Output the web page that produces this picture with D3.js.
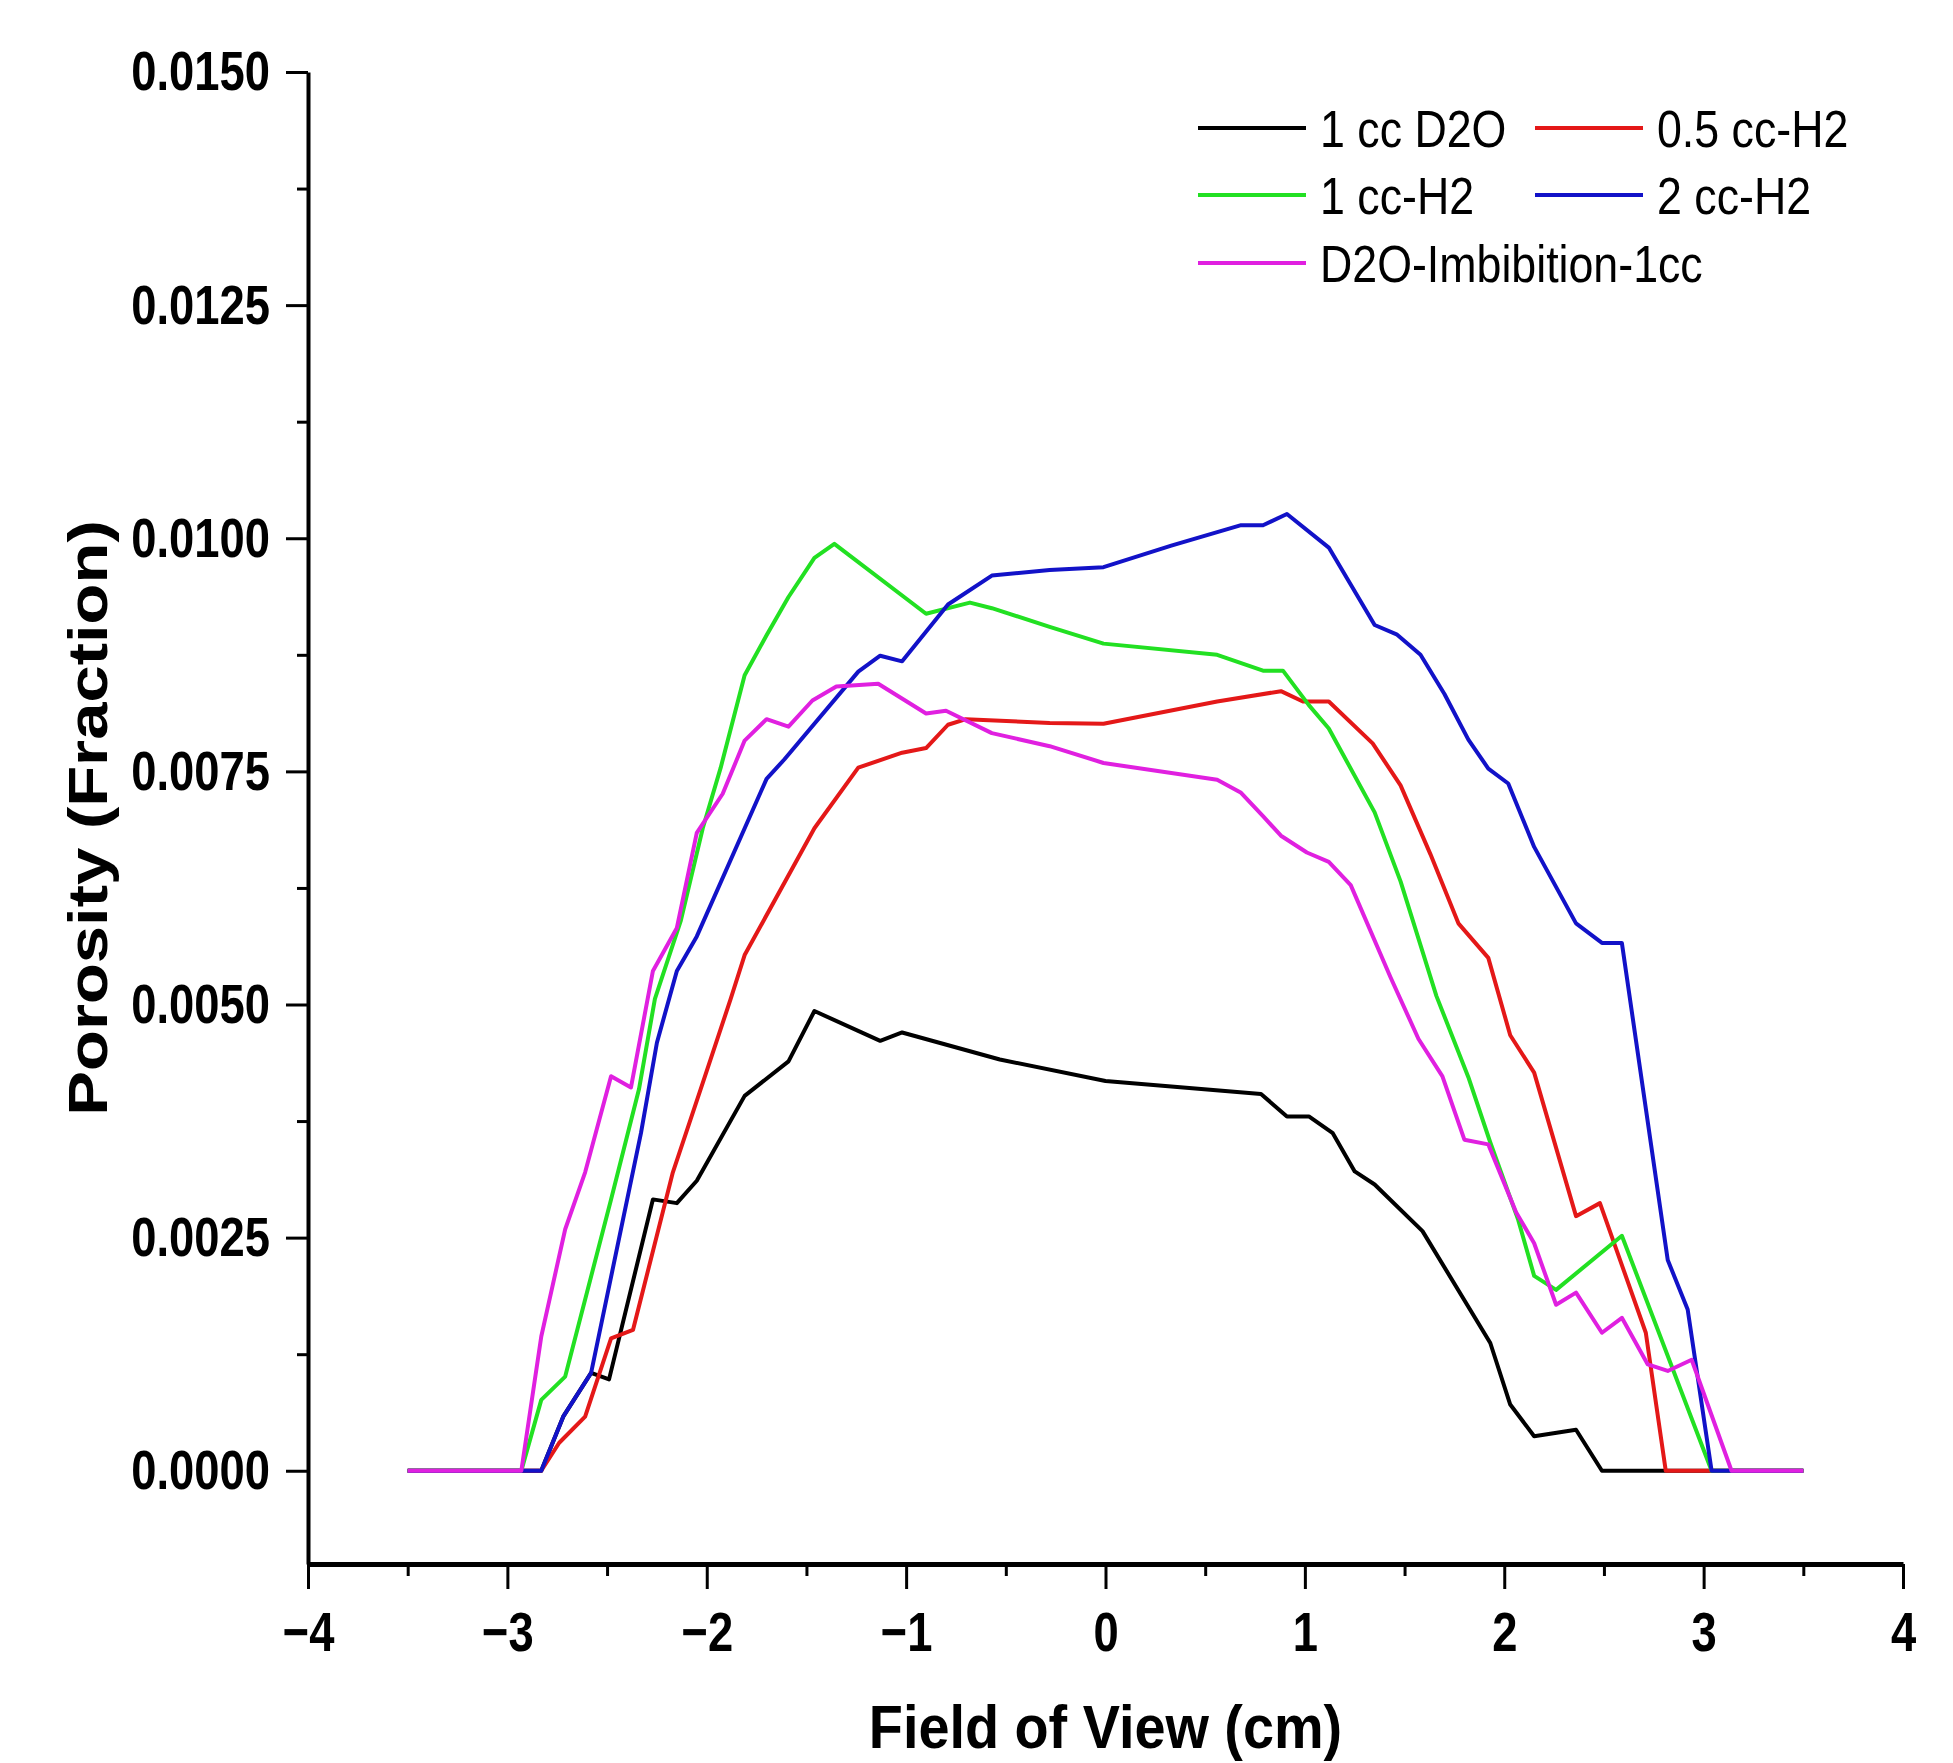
<!DOCTYPE html>
<html>
<head>
<meta charset="utf-8">
<script src="https://cdn.jsdelivr.net/npm/d3@7"></script>
<style>
  body { margin: 0; background: #fff; }
  text { font-family: 'Liberation Sans', Arial, sans-serif; fill: #000; }
</style>
</head>
<body>
<div id="chart"></div>
<script>
// series, in legend order
const seriesNames = ['1 cc D2O', '0.5 cc-H2', '1 cc-H2', '2 cc-H2', 'D2O-Imbibition-1cc']
const seriesColors = ['#000000', '#e41818', '#22e022', '#1212c8', '#e020e0']

const d2oX = [-3.5, -2.83, -2.72, -2.58, -2.49, -2.27, -2.15, -2.05, -1.81, -1.59, -1.46, -1.13, -1.02, -0.53, 0.0, 0.78, 0.91, 1.02, 1.14, 1.25, 1.35, 1.59, 1.93, 2.03, 2.15, 2.36, 2.49, 3.5]
const d2oY = [0, 0, 0.00058, 0.00105, 0.00098, 0.00291, 0.00287, 0.00311, 0.00402, 0.00439, 0.00493, 0.00461, 0.00470, 0.00441, 0.00418, 0.00404, 0.00380, 0.00380, 0.00362, 0.00321, 0.00307, 0.00257, 0.00137, 0.00071, 0.00037, 0.00044, 0, 0]

const h2HalfX = [-3.5, -2.83, -2.74, -2.61, -2.48, -2.37, -2.17, -2.02, -1.88, -1.81, -1.46, -1.24, -1.02, -0.90, -0.79, -0.70, -0.28, -0.01, 0.56, 0.88, 0.99, 1.12, 1.34, 1.48, 1.63, 1.77, 1.92, 2.03, 2.15, 2.36, 2.48, 2.71, 2.81, 3.5]
const h2HalfY = [0, 0, 0.00030, 0.00058, 0.00142, 0.00151, 0.00320, 0.00416, 0.00506, 0.00553, 0.00689, 0.00754, 0.00770, 0.00775, 0.00800, 0.00806, 0.00802, 0.00801, 0.00825, 0.00836, 0.00825, 0.00825, 0.00780, 0.00735, 0.00661, 0.00587, 0.00550, 0.00467, 0.00427, 0.00273, 0.00287, 0.00148, 0, 0]

const h2OneX = [-3.5, -2.93, -2.83, -2.71, -2.48, -2.34, -2.26, -2.13, -2.02, -1.93, -1.81, -1.70, -1.59, -1.46, -1.36, -0.90, -0.68, -0.57, -0.28, -0.01, 0.56, 0.79, 0.89, 1.02, 1.12, 1.35, 1.48, 1.66, 1.82, 1.93, 2.07, 2.15, 2.26, 2.59, 3.04, 3.5]
const h2OneY = [0, 0, 0.00076, 0.00101, 0.00291, 0.00409, 0.00506, 0.00590, 0.00689, 0.00754, 0.00853, 0.00896, 0.00937, 0.00979, 0.00994, 0.00919, 0.00931, 0.00925, 0.00905, 0.00887, 0.00875, 0.00858, 0.00858, 0.00821, 0.00796, 0.00706, 0.00632, 0.00509, 0.00422, 0.00352, 0.00269, 0.00209, 0.00194, 0.00252, 0, 0]

const h2TwoX = [-3.5, -2.83, -2.72, -2.58, -2.33, -2.25, -2.15, -2.05, -1.70, -1.61, -1.24, -1.13, -1.02, -0.79, -0.57, -0.28, -0.01, 0.33, 0.68, 0.79, 0.91, 1.12, 1.35, 1.46, 1.58, 1.70, 1.82, 1.92, 2.02, 2.15, 2.36, 2.49, 2.59, 2.82, 2.92, 3.04, 3.5]
const h2TwoY = [0, 0, 0.00058, 0.00105, 0.00362, 0.00459, 0.00536, 0.00573, 0.00742, 0.00763, 0.00857, 0.00874, 0.00868, 0.00929, 0.00960, 0.00966, 0.00969, 0.00992, 0.01014, 0.01014, 0.01026, 0.00990, 0.00907, 0.00897, 0.00875, 0.00833, 0.00784, 0.00753, 0.00737, 0.00669, 0.00587, 0.00566, 0.00566, 0.00226, 0.00173, 0, 0]

const imbX = [-3.5, -2.93, -2.83, -2.71, -2.61, -2.48, -2.38, -2.27, -2.15, -2.05, -1.92, -1.81, -1.70, -1.59, -1.47, -1.35, -1.14, -0.90, -0.80, -0.57, -0.28, -0.01, 0.56, 0.68, 0.79, 0.88, 1.01, 1.12, 1.23, 1.43, 1.57, 1.69, 1.80, 1.92, 2.06, 2.15, 2.26, 2.36, 2.49, 2.59, 2.72, 2.82, 2.94, 3.14, 3.5]
const imbY = [0, 0, 0.00144, 0.00259, 0.00320, 0.00423, 0.00411, 0.00536, 0.00582, 0.00684, 0.00726, 0.00783, 0.00806, 0.00798, 0.00826, 0.00841, 0.00844, 0.00812, 0.00815, 0.00791, 0.00777, 0.00759, 0.00741, 0.00727, 0.00702, 0.00681, 0.00663, 0.00653, 0.00628, 0.00529, 0.00463, 0.00423, 0.00355, 0.00350, 0.00277, 0.00244, 0.00178, 0.00191, 0.00148, 0.00164, 0.00114, 0.00107, 0.00119, 0, 0]

const seriesX = [d2oX, h2HalfX, h2OneX, h2TwoX, imbX]
const seriesY = [d2oY, h2HalfY, h2OneY, h2TwoY, imbY]

const xTicks = [-4, -3, -2, -1, 0, 1, 2, 3, 4]
const xMinorTicks = [-3.5, -2.5, -1.5, -0.5, 0.5, 1.5, 2.5, 3.5]
const yTicks = [0, 0.0025, 0.005, 0.0075, 0.01, 0.0125, 0.015]
const yMinorTicks = [0.00125, 0.00375, 0.00625, 0.00875, 0.01125, 0.01375]

const width = 1953
const height = 1763

const svg = d3.select('#chart').append('svg')
  .attr('width', width)
  .attr('height', height)
  .attr('viewBox', `0 0 ${width} ${height}`)

svg.append('rect').attr('width', width).attr('height', height).attr('fill', '#fff')

const x = d3.scaleLinear().domain([-4, 4]).range([308, 1903])
const y = d3.scaleLinear().domain([-0.001, 0.015]).range([1564, 72])

// squeeze text horizontally, the original figure is a bit condensed
function condense (sel, k) {
  sel.each(function () {
    const len = this.getComputedTextLength()
    d3.select(this).attr('textLength', len * k).attr('lengthAdjust', 'spacingAndGlyphs')
  })
}

// data lines
const line = d3.line()
  .x(d => x(d[0]))
  .y(d => y(d[1]))

seriesNames.forEach((name, i) => {
  const pts = seriesX[i].map((v, j) => [v, seriesY[i][j]])
  svg.append('path')
    .datum(pts)
    .attr('fill', 'none')
    .attr('stroke', seriesColors[i])
    .attr('stroke-width', 4)
    .attr('stroke-linejoin', 'round')
    .attr('d', line)
})

// x axis
const xAxisG = svg.append('g')
  .attr('transform', `translate(0,${y(-0.001)})`)
  .call(d3.axisBottom(x).tickValues(xTicks).tickSize(25).tickSizeOuter(0).tickFormat(d3.format('d')))
xAxisG.select('.domain').attr('stroke-width', 5)
xAxisG.selectAll('.tick line').attr('stroke-width', 3)
xAxisG.selectAll('.tick text')
  .attr('y', 87).attr('dy', 0)
  .style('font-size', '56px').style('font-weight', 'bold')
  .style('font-family', "'Liberation Sans', Arial, sans-serif")
  .attr('fill', '#000')

const xMinorG = svg.append('g')
  .attr('transform', `translate(0,${y(-0.001)})`)
  .call(d3.axisBottom(x).tickValues(xMinorTicks).tickSize(12).tickFormat(''))
xMinorG.select('.domain').remove()
xMinorG.selectAll('.tick line').attr('stroke-width', 3)

// y axis
const yAxisG = svg.append('g')
  .attr('transform', `translate(${x(-4)},0)`)
  .call(d3.axisLeft(y).tickValues(yTicks).tickSize(22).tickSizeOuter(0).tickPadding(16).tickFormat(d3.format('.4f')))
yAxisG.select('.domain').attr('stroke-width', 4)
yAxisG.selectAll('.tick line').attr('stroke-width', 3)
yAxisG.selectAll('.tick text')
  .attr('dy', '0.32em')
  .style('font-size', '56px').style('font-weight', 'bold')
  .style('font-family', "'Liberation Sans', Arial, sans-serif")
  .attr('fill', '#000')

const yMinorG = svg.append('g')
  .attr('transform', `translate(${x(-4)},0)`)
  .call(d3.axisLeft(y).tickValues(yMinorTicks).tickSize(11).tickFormat(''))
yMinorG.select('.domain').remove()
yMinorG.selectAll('.tick line').attr('stroke-width', 3)

condense(xAxisG.selectAll('.tick text'), 0.81)
condense(yAxisG.selectAll('.tick text'), 0.81)

// axis titles
const xTitle = svg.append('text')
  .attr('x', x(0))
  .attr('y', 1748)
  .attr('text-anchor', 'middle')
  .style('font-size', '62px')
  .style('font-weight', 'bold')
  .text('Field of View (cm)')
condense(xTitle, 0.9)

svg.append('text')
  .attr('transform', 'translate(107,818) scale(0.83,1) rotate(-90)')
  .attr('text-anchor', 'middle')
  .style('font-size', '67px')
  .style('font-weight', 'bold')
  .text('Porosity (Fraction)')

// legend
const legendCols = [1198, 1535]
const legendRows = [128, 195, 263]
const legend = svg.append('g')
seriesNames.forEach((name, i) => {
  const lx = legendCols[i % 2]
  const ly = legendRows[Math.floor(i / 2)]
  legend.append('line')
    .attr('x1', lx).attr('x2', lx + 108)
    .attr('y1', ly).attr('y2', ly)
    .attr('stroke', seriesColors[i])
    .attr('stroke-width', 4)
  const t = legend.append('text')
    .attr('x', lx + 122)
    .attr('y', ly + 19)
    .style('font-size', '52px')
    .text(name)
  condense(t, 0.86)
})
</script>
</body>
</html>
